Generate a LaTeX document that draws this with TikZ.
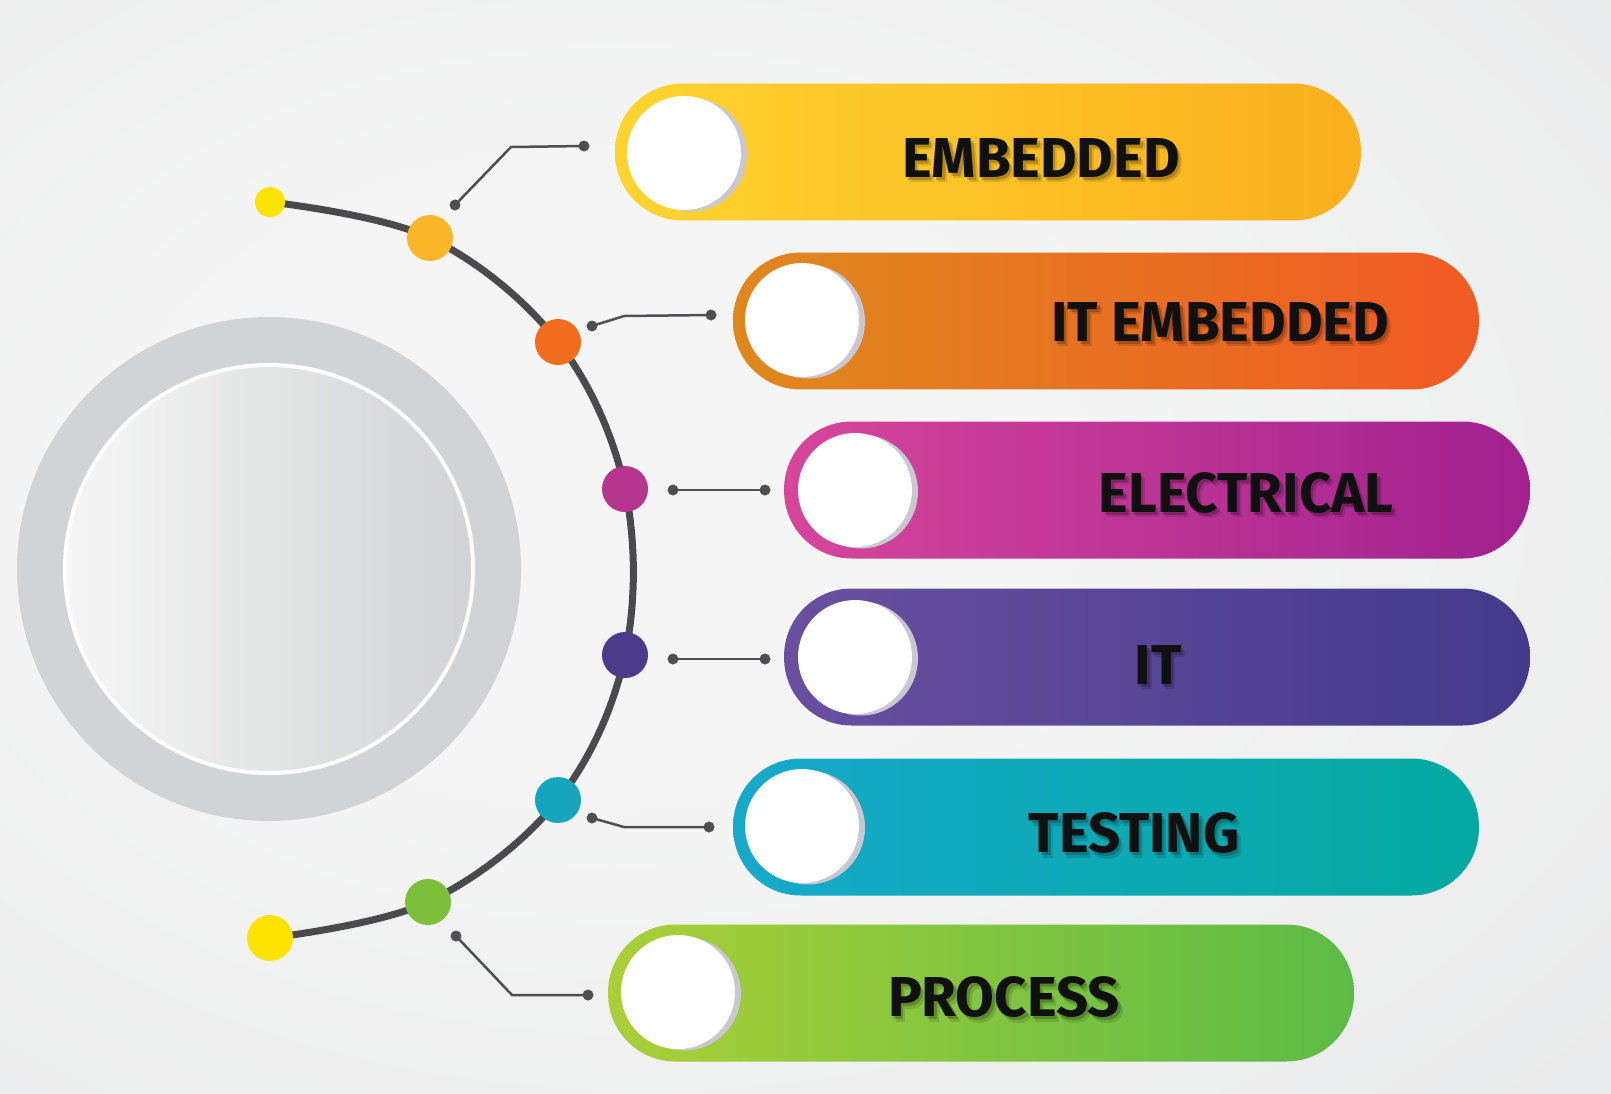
\documentclass[tikz,border=0pt]{standalone}
\usepackage{fontspec}
\newfontfamily\labelfont{Fira Sans}
\usetikzlibrary{shadows}

% page background
\definecolor{bgIn}{HTML}{F5F5F5}
\definecolor{bgMid}{HTML}{E6E7E8}
\definecolor{bgOut}{HTML}{D8D9DB}
\pgfdeclareradialshading{pagebg}{\pgfpoint{-8bp}{4bp}}{%
  color(0bp)=(bgIn); color(14bp)=(bgIn); color(48bp)=(bgMid); color(72bp)=(bgOut)}

% hub
\definecolor{ringgrey}{HTML}{D1D4D7}
\definecolor{discL}{HTML}{F6F6F6}
\definecolor{discR}{HTML}{D2D3D4}

% spine, wires, text
\definecolor{arcgrey}{HTML}{4A4A4C}
\definecolor{wire}{HTML}{4F4F52}
\definecolor{labelink}{HTML}{101010}
\definecolor{knobshade}{HTML}{C9C7D2}

% dots on the spine
\definecolor{sun}{HTML}{FFE300}
\definecolor{dotA}{HTML}{FBB62A}
\definecolor{dotB}{HTML}{F26C1E}
\definecolor{dotC}{HTML}{B6358F}
\definecolor{dotD}{HTML}{4C3B8B}
\definecolor{dotE}{HTML}{16A4BE}
\definecolor{dotF}{HTML}{7CBF3B}

% bar gradients
\definecolor{barAl}{HTML}{FDD42F}
\definecolor{barAr}{HTML}{FBB01E}
\definecolor{barBl}{HTML}{DF881E}
\definecolor{barBr}{HTML}{F15A24}
\definecolor{barCl}{HTML}{D6469B}
\definecolor{barCr}{HTML}{A2218F}
\definecolor{barDl}{HTML}{6A4F9F}
\definecolor{barDr}{HTML}{433A8B}
\definecolor{barEl}{HTML}{17A9CA}
\definecolor{barEr}{HTML}{03A9A0}
\definecolor{barFl}{HTML}{AACF38}
\definecolor{barFr}{HTML}{5CBB46}

% label with a soft drop shadow behind it
\newcommand\barlabel[3]{%
  \node[labtxt, text=black, opacity=0.12, xshift=0.09cm, yshift=-0.11cm] (#1x) at (#2) {#3};
  \node[labtxt, text=black, opacity=0.2, xshift=0.05cm, yshift=-0.06cm] (#1s) at (#2) {#3};
  \node[labtxt] (#1) at (#2) {#3};}

\begin{document}
\begin{tikzpicture}[x=0.02cm, y=-0.02cm,
  arcline/.style={draw=arcgrey, line width=0.14cm, line cap=round},
  ball/.style={circle, inner sep=0pt, minimum size=0.92cm},
  tip/.style={circle, inner sep=0pt, minimum size=0.6cm},
  pin/.style={circle, fill=wire, inner sep=0pt, minimum size=0.22cm},
  wireline/.style={draw=wire, line width=0.05cm},
  bar/.style={rectangle, rounded corners=1.35cm, inner sep=0pt, minimum width=14.92cm, minimum height=2.74cm},
  knob/.style={circle, fill=white, inner sep=0pt, minimum size=2.28cm,
    general shadow={fill=knobshade, shadow xshift=0.12cm, shadow yshift=-0.03cm}},
  labtxt/.style={font=\labelfont\bfseries\fontsize{32}{32}\selectfont, inner sep=0pt, text=labelink}
]
\useasboundingbox (0,0) rectangle (1611,1093);
\shade[shading=pagebg] (0,0) rectangle (1611,1093);

% central hub: grey ring around a shaded disc
\fill[ringgrey] (269,569) circle[radius=252];
\fill[white] (269,569) circle[radius=206];
\shade[left color=discL, right color=discR] (269,569) circle[radius=202];

% the curved spine
\coordinate (p0) at (270,202);
\coordinate (p1) at (430,238);
\coordinate (p2) at (558,342);
\coordinate (p3) at (625,489);
\coordinate (p4) at (625,655);
\coordinate (p5) at (558,800);
\coordinate (p6) at (428,902);
\coordinate (p7) at (270,938);
\draw[arcline] plot[smooth, tension=0.6] coordinates {(p0) (p1) (p2) (p3) (p4) (p5) (p6) (p7)};

\node[tip, fill=sun] (endtop) at (p0) {};
\node[ball, fill=dotA] (n1) at (p1) {};
\node[ball, fill=dotB] (n2) at (p2) {};
\node[ball, fill=dotC] (n3) at (p3) {};
\node[ball, fill=dotD] (n4) at (p4) {};
\node[ball, fill=dotE] (n5) at (p5) {};
\node[ball, fill=dotF] (n6) at (p6) {};
\node[ball, fill=sun] (endbot) at (p7) {};

% short wires from the spine towards the bars
\node[pin] (w1a) at (455,205) {};
\node[pin] (w1b) at (584,146) {};
\coordinate (w1m) at (511,147);
\draw[wireline] (w1a.center) -- (w1m) -- (w1b.center);

\node[pin] (w2a) at (592,326) {};
\node[pin] (w2b) at (711,315) {};
\coordinate (w2m) at (624,316);
\draw[wireline] (w2a.center) -- (w2m) -- (w2b.center);

\node[pin] (w3a) at (673,490) {};
\node[pin] (w3b) at (765,490) {};
\draw[wireline] (w3a.center) -- (w3b.center);

\node[pin] (w4a) at (673,659) {};
\node[pin] (w4b) at (765,659) {};
\draw[wireline] (w4a.center) -- (w4b.center);

\node[pin] (w5a) at (592,818) {};
\node[pin] (w5b) at (709,827) {};
\coordinate (w5m) at (624,827);
\draw[wireline] (w5a.center) -- (w5m) -- (w5b.center);

\node[pin] (w6a) at (456,936) {};
\node[pin] (w6b) at (588,995) {};
\coordinate (w6m) at (512,995);
\draw[wireline] (w6a.center) -- (w6m) -- (w6b.center);

% bars
\node[bar, left color=barAl, right color=barAr] (bar1) at (988,152) {};
\node[bar, left color=barBl, right color=barBr] (bar2) at (1106,321) {};
\node[bar, left color=barCl, right color=barCr] (bar3) at (1157,490) {};
\node[bar, left color=barDl, right color=barDr] (bar4) at (1157,657) {};
\node[bar, left color=barEl, right color=barEr] (bar5) at (1106,827) {};
\node[bar, left color=barFl, right color=barFr] (bar6) at (981,993) {};

% white knobs in the bar ends
\node[knob] (k1) at (684,153) {};
\node[knob] (k2) at (802,320) {};
\node[knob] (k3) at (855,490) {};
\node[knob] (k4) at (855,657) {};
\node[knob] (k5) at (802,826) {};
\node[knob] (k6) at (678,992) {};

% labels
\barlabel{t1}{1041,158}{EMBEDDED}
\barlabel{t2}{1220,322}{IT EMBEDDED}
\barlabel{t3}{1246,493}{ELECTRICAL}
\barlabel{t4}{1158,665}{IT}
\barlabel{t5}{1134,833}{TESTING}
\barlabel{t6}{1004,997}{PROCESS}
\end{tikzpicture}
\end{document}
